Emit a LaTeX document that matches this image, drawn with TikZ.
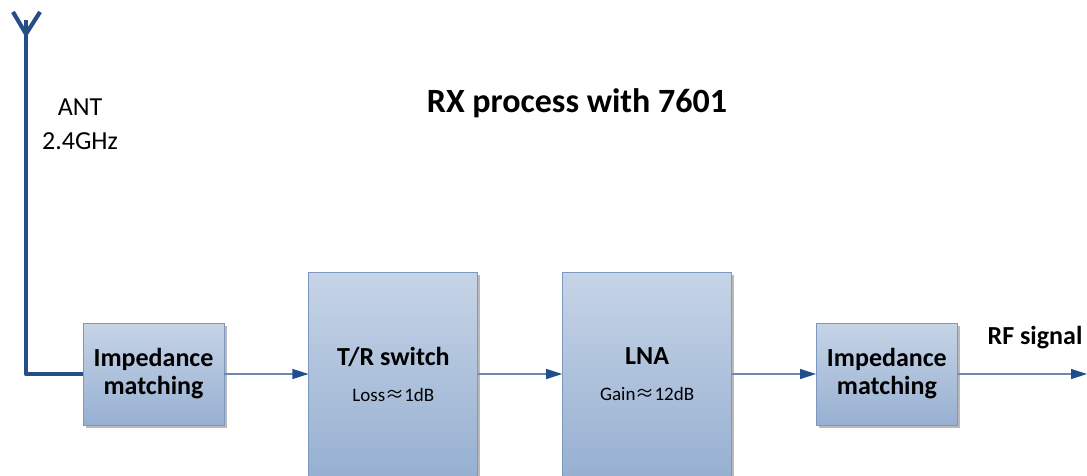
\documentclass[tikz,border=0pt]{standalone}
\usepackage{fontspec}
\setmainfont{Carlito}
\newfontfamily\cjk{Noto Sans CJK SC}
\usepackage{tikz}
\usetikzlibrary{positioning, arrows.meta, shadows}
\definecolor{boxtop}{HTML}{C6D4E6}
\definecolor{boxbot}{HTML}{97B0D2}
\definecolor{boxedge}{HTML}{7D98BE}
\definecolor{antblue}{HTML}{264E86}
\definecolor{lineblue}{HTML}{6A88B0}
\definecolor{tipblue}{HTML}{1F4E8C}

\begin{document}
\begin{tikzpicture}[
  x=1pt, y=-1pt,
  node distance=84pt,
  block/.style={draw=boxedge,line width=0.8pt,top color=boxtop,bottom color=boxbot,
    inner sep=0pt,align=center,font=\fontsize{26}{28}\selectfont\bfseries,
    drop shadow={shadow xshift=2.5pt,shadow yshift=-2.5pt,fill=black!45,opacity=0.6}},
  small/.style={block,minimum width=141pt,minimum height=102pt},
  tall/.style={block,minimum width=169pt,minimum height=204pt},
  note/.style={font=\fontsize{19}{21}\selectfont\mdseries},
  sig/.style={draw=lineblue,line width=1.2pt,-{Triangle[length=16pt,width=10pt,color=tipblue]}},
  ant/.style={draw=antblue,line width=4pt,line join=round}
]
\useasboundingbox (0,0) rectangle (1087,475);

\node (title) at (577,103) {\fontsize{34}{36}\selectfont\bfseries RX process with 7601};
\node (antlbl) [align=center,font=\fontsize{26}{34}\selectfont] at (80,124) {ANT\\2.4GHz};

\node (match1) [small] at (153.5,374) {Impedance\\matching};
\node (trsw) [tall, right=of match1] {T/R switch\\[8pt]{\fontsize{19}{21}\selectfont\mdseries Loss{\cjk ≈}1dB}};
\node (lna) [tall, right=of trsw] {LNA\\[8pt]{\fontsize{19}{21}\selectfont\mdseries Gain{\cjk ≈}12dB}};
\node (match2) [small, right=of lna] {Impedance\\matching};

% antenna
\coordinate (anttop) at (26,20);
\coordinate (antfoot) at (26,374);
\coordinate (armL) at (13,12);
\coordinate (armR) at (40,12);
\coordinate (armJ) at (26,34);
\begin{scope}[xshift=2pt,yshift=-2pt]   % grey shadow
\draw[ant,draw=black!35] (armL) -- (armJ) -- (armR);
\draw[ant,draw=black!35] (anttop) -- (antfoot) -- (match1.west);
\end{scope}
\draw[ant] (armL) -- (armJ) -- (armR);
\draw[ant] (anttop) -- (antfoot) -- (match1.west);

\draw[sig] (match1) -- (trsw);
\draw[sig] (trsw) -- (lna);
\draw[sig] (lna) -- (match2);

\coordinate (rfout) at (1087,374);
\draw[sig] (match2) -- (rfout);
\node (rflbl) [font=\fontsize{26}{28}\selectfont\bfseries] at (1035,338) {RF signal};
\end{tikzpicture}
\end{document}
